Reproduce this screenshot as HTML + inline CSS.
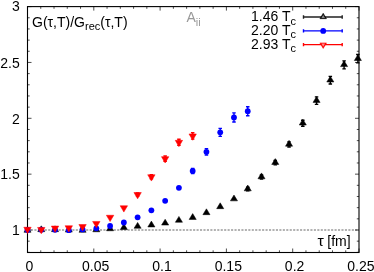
<!DOCTYPE html>
<html><head><meta charset="utf-8"><title>plot</title>
<style>html,body{margin:0;padding:0;background:#fff;width:374px;height:272px;overflow:hidden;font-family:"Liberation Sans",sans-serif}</style></head>
<body>
<svg width="374" height="272" viewBox="0 0 374 272" style="position:absolute;left:0;top:0;will-change:transform">
<rect width="374" height="272" fill="#fff"/>
<line x1="27.5" y1="230.0" x2="359.0" y2="230.0" stroke="#666" stroke-width="1" stroke-dasharray="2.1,1.35"/>
<rect x="27.5" y="6.6" width="331.5" height="245.9" fill="none" stroke="#000" stroke-width="1.1"/>
<path d="M27.50 252.5v-4.0M27.50 6.6v4.0M40.76 252.5v-2.2M40.76 6.6v2.2M54.02 252.5v-2.2M54.02 6.6v2.2M67.28 252.5v-2.2M67.28 6.6v2.2M80.54 252.5v-2.2M80.54 6.6v2.2M93.80 252.5v-4.0M93.80 6.6v4.0M107.06 252.5v-2.2M107.06 6.6v2.2M120.32 252.5v-2.2M120.32 6.6v2.2M133.58 252.5v-2.2M133.58 6.6v2.2M146.84 252.5v-2.2M146.84 6.6v2.2M160.10 252.5v-4.0M160.10 6.6v4.0M173.36 252.5v-2.2M173.36 6.6v2.2M186.62 252.5v-2.2M186.62 6.6v2.2M199.88 252.5v-2.2M199.88 6.6v2.2M213.14 252.5v-2.2M213.14 6.6v2.2M226.40 252.5v-4.0M226.40 6.6v4.0M239.66 252.5v-2.2M239.66 6.6v2.2M252.92 252.5v-2.2M252.92 6.6v2.2M266.18 252.5v-2.2M266.18 6.6v2.2M279.44 252.5v-2.2M279.44 6.6v2.2M292.70 252.5v-4.0M292.70 6.6v4.0M305.96 252.5v-2.2M305.96 6.6v2.2M319.22 252.5v-2.2M319.22 6.6v2.2M332.48 252.5v-2.2M332.48 6.6v2.2M345.74 252.5v-2.2M345.74 6.6v2.2M359.00 252.5v-4.0M359.00 6.6v4.0M27.5 252.34h2.2M359.0 252.34h-2.2M27.5 241.17h2.2M359.0 241.17h-2.2M27.5 230.00h4.0M359.0 230.00h-4.0M27.5 218.83h2.2M359.0 218.83h-2.2M27.5 207.66h2.2M359.0 207.66h-2.2M27.5 196.49h2.2M359.0 196.49h-2.2M27.5 185.32h2.2M359.0 185.32h-2.2M27.5 174.15h4.0M359.0 174.15h-4.0M27.5 162.98h2.2M359.0 162.98h-2.2M27.5 151.81h2.2M359.0 151.81h-2.2M27.5 140.64h2.2M359.0 140.64h-2.2M27.5 129.47h2.2M359.0 129.47h-2.2M27.5 118.30h4.0M359.0 118.30h-4.0M27.5 107.13h2.2M359.0 107.13h-2.2M27.5 95.96h2.2M359.0 95.96h-2.2M27.5 84.79h2.2M359.0 84.79h-2.2M27.5 73.62h2.2M359.0 73.62h-2.2M27.5 62.45h4.0M359.0 62.45h-4.0M27.5 51.28h2.2M359.0 51.28h-2.2M27.5 40.11h2.2M359.0 40.11h-2.2M27.5 28.94h2.2M359.0 28.94h-2.2M27.5 17.77h2.2M359.0 17.77h-2.2M27.5 6.60h4.0M359.0 6.60h-4.0" stroke="#000" stroke-width="0.7" fill="none"/>
<path d="M27.50 226.42L23.95 232.25L31.05 232.25Z" fill="#000" stroke="#000" stroke-width="0.5"/>
<path d="M41.27 225.82L37.72 231.65L44.81 231.65Z" fill="#000" stroke="#000" stroke-width="0.5"/>
<path d="M55.03 225.82L51.48 231.65L58.58 231.65Z" fill="#000" stroke="#000" stroke-width="0.5"/>
<path d="M68.80 226.22L65.25 232.05L72.34 232.05Z" fill="#000" stroke="#000" stroke-width="0.5"/>
<path d="M82.56 226.42L79.01 232.25L86.11 232.25Z" fill="#000" stroke="#000" stroke-width="0.5"/>
<path d="M96.33 225.92L92.78 231.75L99.88 231.75Z" fill="#000" stroke="#000" stroke-width="0.5"/>
<path d="M110.09 224.92L106.54 230.75L113.64 230.75Z" fill="#000" stroke="#000" stroke-width="0.5"/>
<path d="M123.86 223.72L120.31 229.55L127.41 229.55Z" fill="#000" stroke="#000" stroke-width="0.5"/>
<path d="M137.62 222.42L134.07 228.25L141.17 228.25Z" fill="#000" stroke="#000" stroke-width="0.5"/>
<path d="M151.38 221.12L147.83 226.95L154.94 226.95Z" fill="#000" stroke="#000" stroke-width="0.5"/>
<path d="M165.15 219.22L161.60 225.05L168.70 225.05Z" fill="#000" stroke="#000" stroke-width="0.5"/>
<path d="M178.92 216.42L175.37 222.25L182.47 222.25Z" fill="#000" stroke="#000" stroke-width="0.5"/>
<path d="M192.68 213.62L189.13 219.45L196.23 219.45Z" fill="#000" stroke="#000" stroke-width="0.5"/>
<path d="M206.44 208.82L202.89 214.65L210.00 214.65Z" fill="#000" stroke="#000" stroke-width="0.5"/>
<path d="M220.21 202.82L216.66 208.65L223.76 208.65Z" fill="#000" stroke="#000" stroke-width="0.5"/>
<path d="M233.98 195.02L230.43 200.85L237.53 200.85Z" fill="#000" stroke="#000" stroke-width="0.5"/>
<path d="M247.74 187.25V190.85M245.99 187.25h3.5M245.99 190.85h3.5" stroke="#000" stroke-width="1.35" fill="none"/>
<path d="M247.74 185.02L244.19 190.85L251.29 190.85Z" fill="#000" stroke="#000" stroke-width="0.5"/>
<path d="M261.50 174.95V178.95M259.75 174.95h3.5M259.75 178.95h3.5" stroke="#000" stroke-width="1.35" fill="none"/>
<path d="M261.50 172.92L257.95 178.75L265.06 178.75Z" fill="#000" stroke="#000" stroke-width="0.5"/>
<path d="M275.27 160.45V164.85M273.52 160.45h3.5M273.52 164.85h3.5" stroke="#000" stroke-width="1.35" fill="none"/>
<path d="M275.27 158.62L271.72 164.45L278.82 164.45Z" fill="#000" stroke="#000" stroke-width="0.5"/>
<path d="M289.04 141.80V147.00M287.29 141.80h3.5M287.29 147.00h3.5" stroke="#000" stroke-width="1.35" fill="none"/>
<path d="M289.04 140.37L285.49 146.20L292.59 146.20Z" fill="#000" stroke="#000" stroke-width="0.5"/>
<path d="M302.80 120.20V126.20M301.05 120.20h3.5M301.05 126.20h3.5" stroke="#000" stroke-width="1.35" fill="none"/>
<path d="M302.80 119.17L299.25 125.00L306.35 125.00Z" fill="#000" stroke="#000" stroke-width="0.5"/>
<path d="M316.56 96.90V104.30M314.81 96.90h3.5M314.81 104.30h3.5" stroke="#000" stroke-width="1.35" fill="none"/>
<path d="M316.56 96.57L313.01 102.40L320.12 102.40Z" fill="#000" stroke="#000" stroke-width="0.5"/>
<path d="M330.33 76.40V84.00M328.58 76.40h3.5M328.58 84.00h3.5" stroke="#000" stroke-width="1.35" fill="none"/>
<path d="M330.33 76.17L326.78 82.00L333.88 82.00Z" fill="#000" stroke="#000" stroke-width="0.5"/>
<path d="M344.10 60.80V68.80M342.35 60.80h3.5M342.35 68.80h3.5" stroke="#000" stroke-width="1.35" fill="none"/>
<path d="M344.10 60.77L340.55 66.60L347.65 66.60Z" fill="#000" stroke="#000" stroke-width="0.5"/>
<path d="M357.86 54.50V62.90M356.11 54.50h3.5M356.11 62.90h3.5" stroke="#000" stroke-width="1.35" fill="none"/>
<path d="M357.86 54.67L354.31 60.50L361.41 60.50Z" fill="#000" stroke="#000" stroke-width="0.5"/>
<circle cx="27.50" cy="230.00" r="2.9" fill="#0000ff"/>
<circle cx="41.27" cy="229.70" r="2.9" fill="#0000ff"/>
<circle cx="55.03" cy="229.80" r="2.9" fill="#0000ff"/>
<circle cx="68.80" cy="230.20" r="2.9" fill="#0000ff"/>
<circle cx="82.56" cy="229.40" r="2.9" fill="#0000ff"/>
<circle cx="96.33" cy="228.30" r="2.9" fill="#0000ff"/>
<circle cx="110.09" cy="226.00" r="2.9" fill="#0000ff"/>
<circle cx="123.86" cy="222.50" r="2.9" fill="#0000ff"/>
<circle cx="137.62" cy="217.30" r="2.9" fill="#0000ff"/>
<circle cx="151.38" cy="210.30" r="2.9" fill="#0000ff"/>
<circle cx="165.15" cy="200.80" r="2.9" fill="#0000ff"/>
<circle cx="178.92" cy="187.80" r="2.9" fill="#0000ff"/>
<path d="M192.68 168.50V173.50M190.93 168.50h3.5M190.93 173.50h3.5" stroke="#00f" stroke-width="1.35" fill="none"/>
<circle cx="192.68" cy="171.00" r="2.9" fill="#0000ff"/>
<path d="M206.44 148.60V155.00M204.69 148.60h3.5M204.69 155.00h3.5" stroke="#00f" stroke-width="1.35" fill="none"/>
<circle cx="206.44" cy="151.80" r="2.9" fill="#0000ff"/>
<path d="M220.21 128.30V136.30M218.46 128.30h3.5M218.46 136.30h3.5" stroke="#00f" stroke-width="1.35" fill="none"/>
<circle cx="220.21" cy="132.30" r="2.9" fill="#0000ff"/>
<path d="M233.98 112.80V122.00M232.23 112.80h3.5M232.23 122.00h3.5" stroke="#00f" stroke-width="1.35" fill="none"/>
<circle cx="233.98" cy="117.40" r="2.9" fill="#0000ff"/>
<path d="M247.74 106.70V115.70M245.99 106.70h3.5M245.99 115.70h3.5" stroke="#00f" stroke-width="1.35" fill="none"/>
<circle cx="247.74" cy="111.20" r="2.9" fill="#0000ff"/>
<path d="M27.50 233.57L23.80 227.25L31.20 227.25Z" fill="#ff0000" stroke="#ff0000" stroke-width="0.5"/>
<path d="M41.27 233.77L37.56 227.45L44.97 227.45Z" fill="#ff0000" stroke="#ff0000" stroke-width="0.5"/>
<path d="M55.03 232.37L51.33 226.05L58.73 226.05Z" fill="#ff0000" stroke="#ff0000" stroke-width="0.5"/>
<path d="M68.80 232.07L65.09 225.75L72.50 225.75Z" fill="#ff0000" stroke="#ff0000" stroke-width="0.5"/>
<path d="M82.56 230.87L78.86 224.55L86.26 224.55Z" fill="#ff0000" stroke="#ff0000" stroke-width="0.5"/>
<path d="M96.33 227.77L92.62 221.45L100.03 221.45Z" fill="#ff0000" stroke="#ff0000" stroke-width="0.5"/>
<path d="M110.09 221.57L106.39 215.25L113.79 215.25Z" fill="#ff0000" stroke="#ff0000" stroke-width="0.5"/>
<path d="M123.86 212.07L120.16 205.75L127.56 205.75Z" fill="#ff0000" stroke="#ff0000" stroke-width="0.5"/>
<path d="M137.62 193.00V196.00M135.87 193.00h3.5M135.87 196.00h3.5" stroke="#f00" stroke-width="1.35" fill="none"/>
<path d="M137.62 198.87L133.92 192.55L141.32 192.55Z" fill="#ff0000" stroke="#ff0000" stroke-width="0.5"/>
<path d="M151.38 174.70V178.70M149.63 174.70h3.5M149.63 178.70h3.5" stroke="#f00" stroke-width="1.35" fill="none"/>
<path d="M151.38 181.07L147.69 174.75L155.08 174.75Z" fill="#ff0000" stroke="#ff0000" stroke-width="0.5"/>
<path d="M165.15 156.00V161.20M163.40 156.00h3.5M163.40 161.20h3.5" stroke="#f00" stroke-width="1.35" fill="none"/>
<path d="M165.15 162.97L161.45 156.65L168.85 156.65Z" fill="#ff0000" stroke="#ff0000" stroke-width="0.5"/>
<path d="M178.92 139.20V145.40M177.17 139.20h3.5M177.17 145.40h3.5" stroke="#f00" stroke-width="1.35" fill="none"/>
<path d="M178.92 146.67L175.22 140.35L182.62 140.35Z" fill="#ff0000" stroke="#ff0000" stroke-width="0.5"/>
<path d="M192.68 132.70V139.10M190.93 132.70h3.5M190.93 139.10h3.5" stroke="#f00" stroke-width="1.35" fill="none"/>
<path d="M192.68 140.27L188.98 133.95L196.38 133.95Z" fill="#ff0000" stroke="#ff0000" stroke-width="0.5"/>
<path d="M303.5 17.0H342.2M303.5 15.3v3.4M342.2 15.3v3.4" stroke="#222" stroke-width="1.4" fill="none"/>
<path d="M323.20 13.19L319.90 18.70L326.50 18.70Z" fill="#000" stroke="#000" stroke-width="0.5"/>
<path d="M323.2 14.79L321.40 18.00L325.00 18.00Z" fill="#858585"/>
<path d="M303.5 30.9H342.2M303.5 29.2v3.4M342.2 29.2v3.4" stroke="#00f" stroke-width="1.4" fill="none"/>
<circle cx="323.20" cy="30.90" r="2.9" fill="#00f"/>
<path d="M303.5 44.6H342.2M303.5 42.9v3.4M342.2 42.9v3.4" stroke="#f00" stroke-width="1.4" fill="none"/>
<path d="M323.20 48.41L319.90 42.90L326.50 42.90Z" fill="#f00" stroke="#f00" stroke-width="0.5"/>
<path d="M323.2 46.81L321.40 43.60L325.00 43.60Z" fill="#f88"/>
<text x="19.8" y="11.00" font-family="Liberation Sans, sans-serif" font-size="14" text-anchor="end" fill="#000">3</text>
<text x="19.8" y="67.65" font-family="Liberation Sans, sans-serif" font-size="14" text-anchor="end" fill="#000">2.5</text>
<text x="19.8" y="123.50" font-family="Liberation Sans, sans-serif" font-size="14" text-anchor="end" fill="#000">2</text>
<text x="19.8" y="179.35" font-family="Liberation Sans, sans-serif" font-size="14" text-anchor="end" fill="#000">1.5</text>
<text x="19.8" y="235.20" font-family="Liberation Sans, sans-serif" font-size="14" text-anchor="end" fill="#000">1</text>
<text x="29.40" y="271.3" font-family="Liberation Sans, sans-serif" font-size="14" text-anchor="middle" fill="#000">0</text>
<text x="95.70" y="271.3" font-family="Liberation Sans, sans-serif" font-size="14" text-anchor="middle" fill="#000">0.05</text>
<text x="162.00" y="271.3" font-family="Liberation Sans, sans-serif" font-size="14" text-anchor="middle" fill="#000">0.1</text>
<text x="228.30" y="271.3" font-family="Liberation Sans, sans-serif" font-size="14" text-anchor="middle" fill="#000">0.15</text>
<text x="294.60" y="271.3" font-family="Liberation Sans, sans-serif" font-size="14" text-anchor="middle" fill="#000">0.2</text>
<text x="360.90" y="271.3" font-family="Liberation Sans, sans-serif" font-size="14" text-anchor="middle" fill="#000">0.25</text>
<text x="32" y="26.5" font-family="Liberation Sans, sans-serif" font-size="14" fill="#000">G(τ,T)/G<tspan dy="3" font-size="11">rec</tspan><tspan dy="-3">(τ,T)</tspan></text>
<text x="186.4" y="22.1" font-family="Liberation Sans, sans-serif" font-size="14" fill="#999">A<tspan dy="3.8" font-size="11">ii</tspan></text>
<text x="317.4" y="246.4" font-family="Liberation Sans, sans-serif" font-size="14" fill="#000"><tspan textLength="6.3" lengthAdjust="spacingAndGlyphs">τ</tspan><tspan x="327.3">[fm]</tspan></text>
<text x="251" y="21" font-family="Liberation Sans, sans-serif" font-size="14" fill="#000">1.46 T<tspan dy="3.5" font-size="11">c</tspan></text>
<text x="251" y="34.6" font-family="Liberation Sans, sans-serif" font-size="14" fill="#000">2.20 T<tspan dy="3.5" font-size="11">c</tspan></text>
<text x="251" y="48.8" font-family="Liberation Sans, sans-serif" font-size="14" fill="#000">2.93 T<tspan dy="3.5" font-size="11">c</tspan></text>
</svg>
</body></html>
